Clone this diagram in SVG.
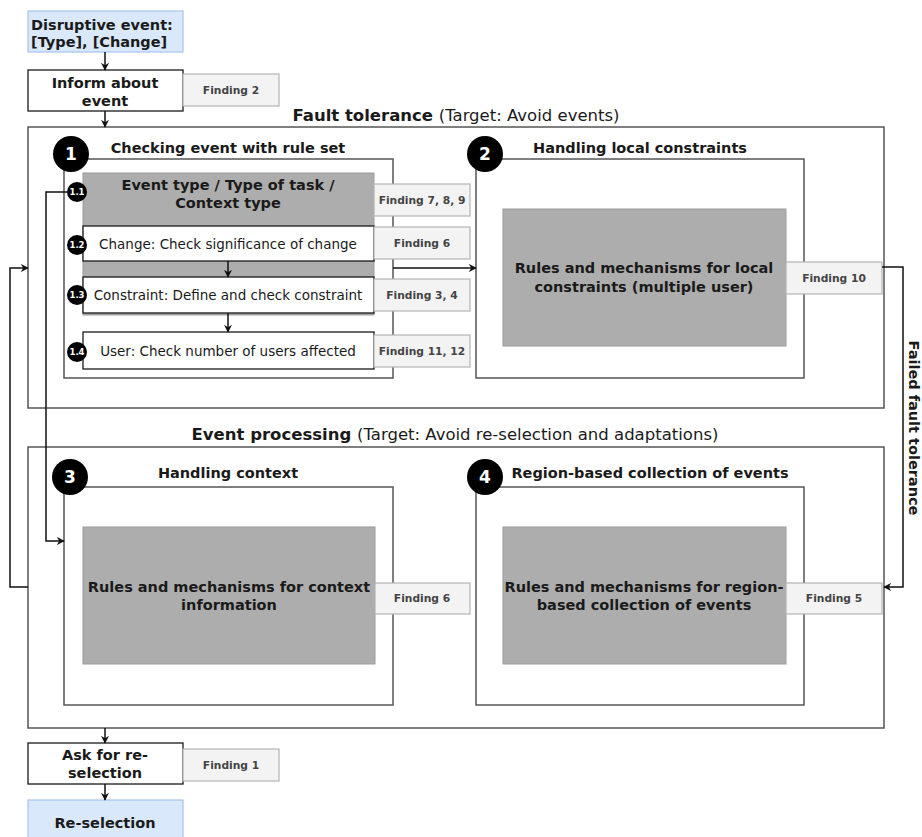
<svg xmlns="http://www.w3.org/2000/svg" width="922" height="837" viewBox="0 0 922 837">
  <style>
    text { font-family: "DejaVu Sans", Verdana, sans-serif; fill: #1a1a1a; }
    .b { font-weight: bold; font-size: 14.5px; }
    .big { font-size: 16.5px; }
    .n { font-weight: normal; }
    .item { font-size: 13.5px; text-anchor: middle; }
    .ttl { font-weight: bold; font-size: 14.5px; text-anchor: middle; }
    .box { fill: #ffffff; stroke: #1a1a1a; stroke-width: 1.3; }
    .frame { fill: #ffffff; stroke: #555555; stroke-width: 1.5; }
    .grey { fill: #adadad; stroke: #9c9c9c; stroke-width: 1; }
    .blue { fill: #dae8fc; stroke: #a9c4eb; stroke-width: 1.2; }
    .find { fill: #f3f3f3; stroke: #b4b4b4; stroke-width: 1.2; }
    .findt { font-weight: bold; font-size: 10.7px; fill: #444444; text-anchor: middle; }
    .badge { fill: #000000; }
    .badget { fill: #ffffff; font-weight: bold; font-size: 17px; text-anchor: middle; }
    .sbadget { fill: #ffffff; font-weight: bold; font-size: 8.5px; text-anchor: middle; }
    .wire { fill: none; stroke: #111111; stroke-width: 1.5; }
  </style>
  <defs>
    <marker id="arr" viewBox="0 0 10 10" refX="9" refY="5" markerWidth="8" markerHeight="8" markerUnits="userSpaceOnUse" orient="auto">
      <path d="M0,0 L10,5 L0,10 L3,5 z" fill="#111111"/>
    </marker>
  </defs>

  <!-- outer frames -->
  <g id="fault-tolerance">
    <rect class="frame" x="28" y="127" width="856" height="281"/>
    <text class="b big" x="456" y="121" text-anchor="middle">Fault tolerance <tspan class="n">(Target: Avoid events)</tspan></text>
  </g>
  <g id="event-processing">
    <rect class="frame" x="28" y="447" width="856" height="281"/>
    <text class="b big" x="455" y="440" text-anchor="middle">Event processing <tspan class="n">(Target: Avoid re-selection and adaptations)</tspan></text>
  </g>

  <!-- start / end -->
  <g id="disruptive-event">
    <rect class="blue" x="28" y="11" width="155" height="41"/>
    <text class="b" x="31" y="30" font-size="15.5">Disruptive event:</text>
    <text class="b" x="31" y="47" font-size="15.5">[Type], [Change]</text>
  </g>
  <g id="inform">
    <rect class="box" x="28" y="70" width="155" height="41"/>
    <text class="ttl" x="105" y="88">Inform about</text>
    <text class="ttl" x="105" y="106">event</text>
    <rect class="find" x="183" y="74" width="96" height="32"/>
    <text class="findt" x="231" y="94">Finding 2</text>
  </g>
  <g id="ask-reselection">
    <rect class="box" x="28" y="743" width="155" height="41"/>
    <text class="ttl" x="105" y="760">Ask for re-</text>
    <text class="ttl" x="105" y="778">selection</text>
    <rect class="find" x="183" y="749" width="96" height="32"/>
    <text class="findt" x="231" y="769">Finding 1</text>
  </g>
  <g id="reselection">
    <rect class="blue" x="28" y="800" width="155" height="45"/>
    <text class="ttl" x="105" y="828" font-size="15">Re-selection</text>
  </g>

  <!-- 1: rule set -->
  <g id="rule-set">
    <rect class="frame" x="64" y="159" width="329" height="219"/>
    <text class="ttl" x="228" y="153">Checking event with rule set</text>
    <circle class="badge" cx="71" cy="154" r="18"/>
    <text class="badget" x="71" y="160">1</text>

    <rect class="grey" x="83" y="173" width="291" height="142"/>
    <text class="ttl" x="228" y="190" font-size="15">Event type / Type of task /</text>
    <text class="ttl" x="228" y="208" font-size="15">Context type</text>

    <rect class="box" x="83" y="226" width="291" height="35"/>
    <text class="item" x="228" y="249">Change: Check significance of change</text>
    <rect class="box" x="83" y="277" width="291" height="36"/>
    <text class="item" x="228" y="300">Constraint: Define and check constraint</text>
    <rect class="box" x="83" y="332" width="291" height="37"/>
    <text class="item" x="228" y="356">User: Check number of users affected</text>

    <rect class="find" x="374" y="184" width="96" height="32"/>
    <text class="findt" x="422" y="204">Finding 7, 8, 9</text>
    <rect class="find" x="374" y="227" width="96" height="32"/>
    <text class="findt" x="422" y="247">Finding 6</text>
    <rect class="find" x="374" y="279" width="96" height="32"/>
    <text class="findt" x="422" y="299">Finding 3, 4</text>
    <rect class="find" x="374" y="335" width="96" height="32"/>
    <text class="findt" x="422" y="355">Finding 11, 12</text>

    <circle class="badge" cx="77" cy="192" r="10"/>
    <text class="sbadget" x="77" y="195">1.1</text>
    <circle class="badge" cx="77" cy="245" r="10"/>
    <text class="sbadget" x="77" y="248">1.2</text>
    <circle class="badge" cx="77" cy="295" r="10"/>
    <text class="sbadget" x="77" y="298">1.3</text>
    <circle class="badge" cx="77" cy="352" r="10"/>
    <text class="sbadget" x="77" y="355">1.4</text>
  </g>

  <!-- 2: local constraints -->
  <g id="local-constraints">
    <rect class="frame" x="476" y="159" width="328" height="219"/>
    <text class="ttl" x="640" y="153">Handling local constraints</text>
    <circle class="badge" cx="485" cy="154" r="18"/>
    <text class="badget" x="485" y="160">2</text>
    <rect class="grey" x="503" y="209" width="283" height="137"/>
    <text class="ttl" x="644" y="273">Rules and mechanisms for local</text>
    <text class="ttl" x="644" y="292">constraints (multiple user)</text>
    <rect class="find" x="786" y="262" width="96" height="32"/>
    <text class="findt" x="834" y="282">Finding 10</text>
  </g>

  <!-- 3: context -->
  <g id="context">
    <rect class="frame" x="64" y="487" width="329" height="218"/>
    <text class="ttl" x="228" y="478">Handling context</text>
    <circle class="badge" cx="70" cy="477" r="18"/>
    <text class="badget" x="70" y="483">3</text>
    <rect class="grey" x="83" y="527" width="292" height="137"/>
    <text class="ttl" x="229" y="592">Rules and mechanisms for context</text>
    <text class="ttl" x="229" y="610">information</text>
    <rect class="find" x="375" y="583" width="95" height="31"/>
    <text class="findt" x="422" y="602">Finding 6</text>
  </g>

  <!-- 4: region-based collection -->
  <g id="region-collection">
    <rect class="frame" x="476" y="487" width="328" height="218"/>
    <text class="ttl" x="650" y="478">Region-based collection of events</text>
    <circle class="badge" cx="485" cy="477" r="18"/>
    <text class="badget" x="485" y="483">4</text>
    <rect class="grey" x="503" y="527" width="283" height="137"/>
    <text class="ttl" x="644" y="592">Rules and mechanisms for region-</text>
    <text class="ttl" x="644" y="610">based collection of events</text>
    <rect class="find" x="786" y="583" width="96" height="31"/>
    <text class="findt" x="834" y="602">Finding 5</text>
  </g>

  <!-- connectors -->
  <g id="connectors">
    <path class="wire" d="M105,52 V70" marker-end="url(#arr)"/>
    <path class="wire" d="M105,111 V127" marker-end="url(#arr)"/>
    <path class="wire" d="M228,261 V277" marker-end="url(#arr)"/>
    <path class="wire" d="M228,313 V332" marker-end="url(#arr)"/>
    <path class="wire" d="M393,268 H476" marker-end="url(#arr)"/>
    <path class="wire" d="M67,192 H46 V541 H64" marker-end="url(#arr)"/>
    <path class="wire" d="M28,587 H10 V268 H28" marker-end="url(#arr)"/>
    <path class="wire" d="M882,267 H903 V587 H884" marker-end="url(#arr)"/>
    <path class="wire" d="M105,728 V743" marker-end="url(#arr)"/>
    <path class="wire" d="M105,784 V800" marker-end="url(#arr)"/>
    <text class="ttl" font-size="16" transform="translate(909,428) rotate(90)">Failed fault tolerance</text>
  </g>
</svg>
